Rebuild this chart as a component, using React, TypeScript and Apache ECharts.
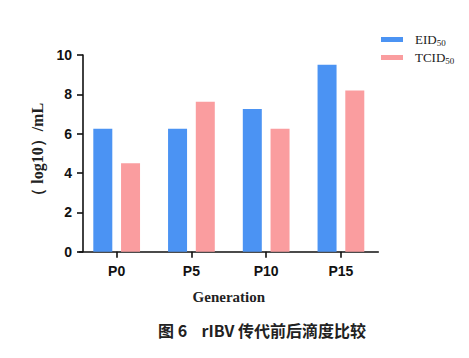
import React, { useEffect, useRef } from "react";
import * as echarts from "echarts";

const categories = ["P0", "P5", "P10", "P15"];
const eidValues = [6.25, 6.25, 7.25, 9.5];
const tcidValues = [4.5, 7.62, 6.25, 8.2];
const yTicks = [0, 2, 4, 6, 8, 10];
const seriesNames = ["EID50", "TCID50"];

export default function App() {
  const ref = useRef<HTMLDivElement>(null);
  useEffect(() => {
    if (!ref.current) return;
    const chart = echarts.init(ref.current, null, { renderer: "svg" });
    const axisLine = { show: true, lineStyle: { color: "#111", width: 1.6 } };
    chart.setOption({
      animation: false,
      backgroundColor: "#fff",
      grid: { left: 79.3, top: 55, width: 299, height: 196.7, containLabel: false },
      legend: {
        orient: "vertical",
        left: 376,
        top: 27,
        itemWidth: 22,
        itemHeight: 5,
        itemGap: 3,
        icon: "rect",
        data: seriesNames,
        formatter: (n: string) =>
          n === "EID50" ? "{a|EID}{s|50}" : "{a|TCID}{s|50}",
        textStyle: {
          rich: {
            a: { fontFamily: "Liberation Serif", fontSize: 13, color: "#222", padding: [0, 0, 0, 7], lineHeight: 15 },
            s: {
              fontFamily: "Liberation Serif",
              fontSize: 9,
              color: "#222",
              padding: [6, 0, 0, 0],
              lineHeight: 15,
            },
          },
        },
      },
      xAxis: {
        type: "category",
        data: categories,
        axisLine,
        axisTick: { show: true, alignWithLabel: true, length: 6, lineStyle: { color: "#111", width: 1.6 } },
        axisLabel: {
          margin: 12,
          fontFamily: "Liberation Sans",
          fontWeight: "bold",
          fontSize: 14,
          color: "#111",
        },
        name: "Generation",
        nameLocation: "middle",
        nameGap: 38,
        nameTextStyle: {
          fontFamily: "Liberation Serif",
          fontWeight: "bold",
          fontSize: 15,
          color: "#222",
        },
      },
      yAxis: {
        type: "value",
        min: 0,
        max: 10,
        interval: 2,
        offset: -3.7,
        axisLine,
        axisTick: { show: true, length: 6, lineStyle: { color: "#111", width: 1.6 } },
        splitLine: { show: false },
        axisLabel: {
          margin: 11,
          fontFamily: "Liberation Sans",
          fontWeight: "bold",
          fontSize: 14,
          color: "#111",
          formatter: (v: number) => (yTicks.includes(v) ? String(v) : ""),
        },
        name: "（ log10）/mL",
        nameLocation: "middle",
        nameGap: 26,
        nameTextStyle: {
          fontFamily: "Liberation Serif",
          fontWeight: "bold",
          fontSize: 16,
          color: "#222",
        },
      },
      series: [
        {
          name: seriesNames[0],
          type: "bar",
          data: eidValues,
          barWidth: 19,
          barGap: "46%",
          itemStyle: { color: "#4b93f3" },
        },
        {
          name: seriesNames[1],
          type: "bar",
          data: tcidValues,
          barWidth: 19,
          itemStyle: { color: "#fa9d9f" },
        },
      ],
      graphic: [
        {
          type: "text",
          left: 158,
          top: 322,
          style: {
            text: "图 6    rIBV 传代前后滴度比较",
            font: "bold 16px 'Noto Sans CJK SC'",
            fill: "#222",
          },
        },
      ],
    });
    return () => chart.dispose();
  }, []);
  return (
    <div
      ref={ref}
      style={{ position: "fixed", left: 0, top: 0, width: 469, height: 358 }}
    />
  );
}
